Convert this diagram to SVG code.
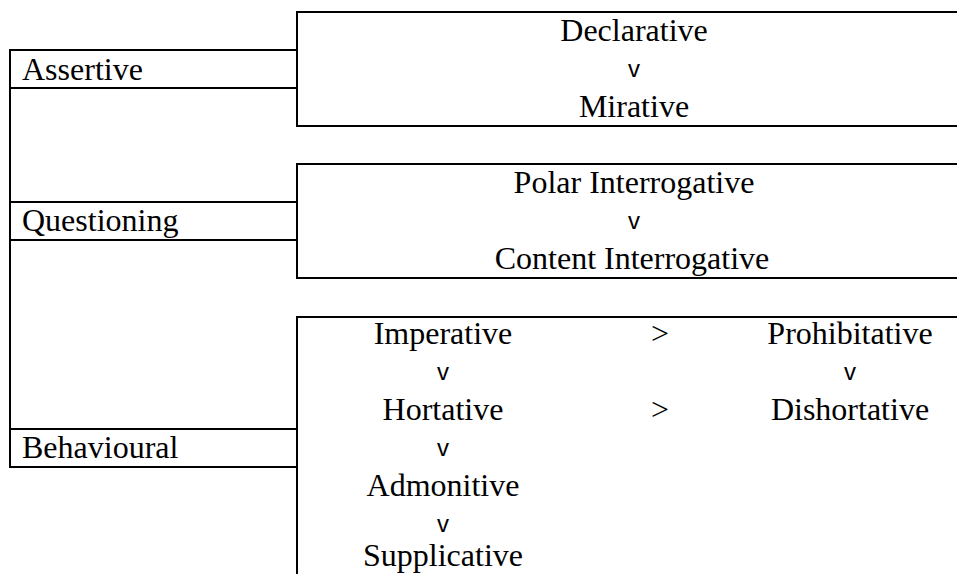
<svg xmlns="http://www.w3.org/2000/svg" width="957" height="574" viewBox="0 0 957 574">
<style>
.ln{stroke:#000;stroke-width:2;fill:none}
.t{font-family:'Liberation Serif','Times New Roman',serif;font-size:32px;fill:#000}
.c{text-anchor:middle}
.v{font-family:'Liberation Sans',Arial,sans-serif;font-size:24px;fill:#000;text-anchor:middle}
</style>
<rect width="957" height="574" fill="#fff"/>
<g id="connectors">
<line class="ln" x1="10" y1="50" x2="10" y2="467"/>
</g>
<g id="assertive">
<rect class="ln" x="10" y="50" width="287" height="38"/>
<text class="t" x="22" y="80">Assertive</text>
</g>
<g id="questioning">
<rect class="ln" x="10" y="202" width="287" height="38"/>
<text class="t" x="22" y="231">Questioning</text>
</g>
<g id="behavioural">
<rect class="ln" x="10" y="429" width="287" height="38"/>
<text class="t" x="22" y="458">Behavioural</text>
</g>
<g id="assertive-types">
<path class="ln" d="M958 12H297V126H958"/>
<text class="t c" x="634" y="41">Declarative</text>
<text class="v" x="634" y="77">v</text>
<text class="t c" x="634" y="117">Mirative</text>
</g>
<g id="questioning-types">
<path class="ln" d="M958 164H297V278H958"/>
<text class="t c" x="634" y="193">Polar Interrogative</text>
<text class="v" x="634" y="229">v</text>
<text class="t c" x="632" y="269">Content Interrogative</text>
</g>
<g id="behavioural-types">
<path class="ln" d="M958 317H297V575"/>
<text class="t c" x="443" y="344">Imperative</text>
<text class="t c" x="660" y="344">&gt;</text>
<text class="t c" x="850" y="344">Prohibitative</text>
<text class="v" x="443" y="380">v</text>
<text class="v" x="850" y="380">v</text>
<text class="t c" x="443" y="420">Hortative</text>
<text class="t c" x="660" y="420">&gt;</text>
<text class="t c" x="850" y="420">Dishortative</text>
<text class="v" x="443" y="456">v</text>
<text class="t c" x="443" y="496">Admonitive</text>
<text class="v" x="443" y="532">v</text>
<text class="t c" x="443" y="566">Supplicative</text>
</g>
</svg>
